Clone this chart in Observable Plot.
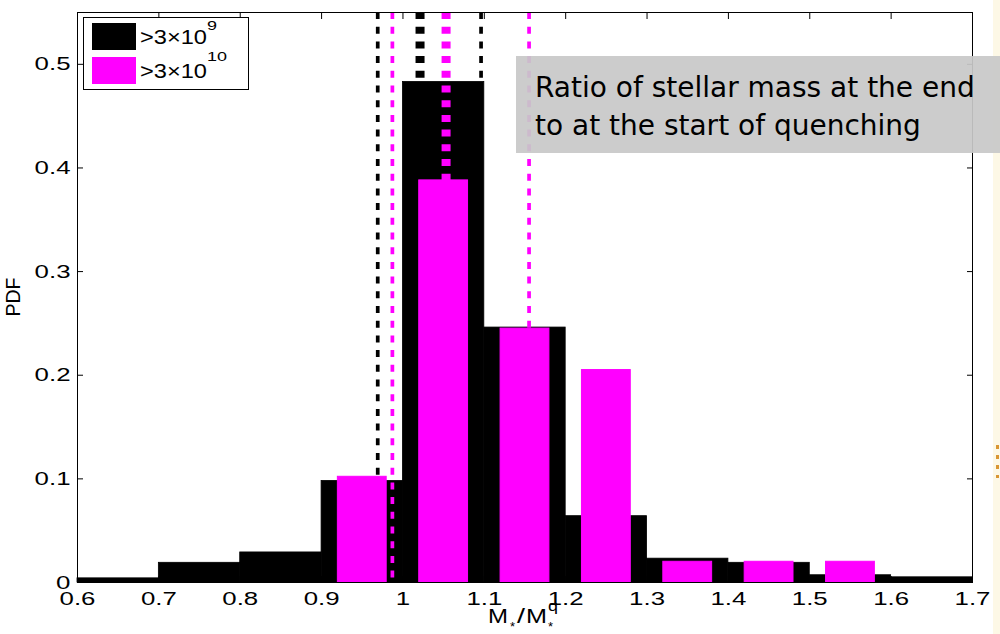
<!DOCTYPE html>
<html>
<head>
<meta charset="utf-8">
<script src="https://cdn.jsdelivr.net/npm/d3@7"></script>
<script src="https://cdn.jsdelivr.net/npm/@observablehq/plot@0.6"></script>
<style>
  html, body { margin: 0; padding: 0; background: #fff; }
  #wrap { position: relative; width: 1000px; height: 634px; overflow: hidden; }
  #overlay { position: absolute; left: 0; top: 0; pointer-events: none; }
</style>
</head>
<body>
<div id="wrap"></div>
<script>
// ---- data ----
const binStart   = [0.6, 0.7, 0.8, 0.9, 1.0, 1.1, 1.2, 1.3, 1.4, 1.5, 1.6];
const binWidth   = 0.1;
const pdfAll     = [0.004, 0.019, 0.029, 0.098, 0.483, 0.246, 0.064, 0.023, 0.019, 0.007, 0.005]; // >3x10^9
const pdfMassive = [0, 0, 0, 0.102, 0.388, 0.245, 0.205, 0.020, 0.020, 0.020, 0];           // >3x10^10
// dashed lines: lower, median, upper
const linesAll     = [0.969, 1.021, 1.096];
const linesMassive = [0.987, 1.053, 1.155];
const xTicks = [0.6, 0.7, 0.8, 0.9, 1.0, 1.1, 1.2, 1.3, 1.4, 1.5, 1.6, 1.7];
const yTicks = [0, 0.1, 0.2, 0.3, 0.4, 0.5];
const legendLabels = [">3\u00d710", ">3\u00d710"];
const legendExps = ["9", "10"];

const colAll = "#000000", colMassive = "#ff00ff";

const allRows = binStart.map((s, i) => ({x1: s, x2: s + binWidth, y: pdfAll[i]}));
// second series is drawn narrower (60% of bin) centred on the bin
const massRows = binStart.map((s, i) => ({x1: s + binWidth * 0.2, x2: s + binWidth * 0.8, y: pdfMassive[i]}));

const fmt = d => String(+d.toFixed(1));
const dash = "7,7.7";

const chart = Plot.plot({
  width: 1000,
  height: 634,
  marginLeft: 77,
  marginRight: 28,
  marginTop: 12,
  marginBottom: 52,
  style: {fontFamily: "'Liberation Sans', Arial, sans-serif", fontSize: "19px", color: "#000", background: "transparent"},
  x: {domain: [0.6, 1.7], label: null},
  y: {domain: [0, 0.55], label: null},
  marks: [
    Plot.rectY(allRows, {x1: "x1", x2: "x2", y: "y", fill: colAll, stroke: colAll, strokeWidth: 0.8, inset: 0}),
    Plot.ruleX([linesAll[0], linesAll[2]], {stroke: colAll, strokeWidth: 3.7, strokeDasharray: dash}),
    Plot.ruleX([linesAll[1]], {stroke: colAll, strokeWidth: 9, strokeDasharray: dash}),
    Plot.rectY(massRows, {x1: "x1", x2: "x2", y: "y", fill: colMassive, stroke: colMassive, strokeWidth: 1, inset: 0}),
    Plot.ruleX([linesMassive[0], linesMassive[2]], {stroke: colMassive, strokeWidth: 3.7, strokeDasharray: dash}),
    Plot.ruleX([linesMassive[1]], {stroke: colMassive, strokeWidth: 9, strokeDasharray: dash}),
    Plot.frame({stroke: "#000", strokeWidth: 1}),
    Plot.axisX({ticks: xTicks, tickFormat: fmt, tickSize: -6, tickPadding: 15, label: null}),
    Plot.axisX({anchor: "top", ticks: xTicks, tickFormat: () => "", tickSize: -6, label: null}),
    Plot.axisY({ticks: yTicks, tickFormat: fmt, tickSize: -6, tickPadding: 13, label: null}),
    Plot.axisY({anchor: "right", ticks: yTicks, tickFormat: () => "", tickSize: -6, label: null})
  ]
});
document.getElementById("wrap").appendChild(chart);

// widen tick label glyphs horizontally (MATLAB export look)
d3.select(chart).selectAll('g[aria-label$="tick label"] text').each(function() {
  const w = this.getComputedTextLength();
  if (w > 0) {
    this.setAttribute("textLength", (w * 1.36).toFixed(1));
    this.setAttribute("lengthAdjust", "spacingAndGlyphs");
  }
});

// ---- overlay: legend, annotation, axis titles ----
const NS = "http://www.w3.org/2000/svg";
const ov = document.createElementNS(NS, "svg");
ov.setAttribute("id", "overlay");
ov.setAttribute("width", 1000);
ov.setAttribute("height", 634);
ov.innerHTML = `
  <rect x="993" y="0" width="7" height="634" fill="#fdf8e6"/>
  <line x1="997.5" y1="445" x2="997.5" y2="478" stroke="#d99633" stroke-width="3" stroke-dasharray="4,6"/>
  <rect x="83.5" y="17.5" width="165" height="72" fill="#fff" stroke="#000" stroke-width="1"/>
  <rect x="92" y="23" width="44" height="27" fill="${colAll}"/>
  <rect x="92" y="57" width="44" height="27" fill="${colMassive}"/>
  <g font-family="'Liberation Sans', Arial, sans-serif" fill="#000">
    <text x="140" y="44" font-size="19.5" textLength="67" lengthAdjust="spacingAndGlyphs">${legendLabels[0]}</text>
    <text x="207" y="30" font-size="13.5" textLength="10" lengthAdjust="spacingAndGlyphs">${legendExps[0]}</text>
    <text x="140" y="78" font-size="19.5" textLength="67" lengthAdjust="spacingAndGlyphs">${legendLabels[1]}</text>
    <text x="207" y="61" font-size="13.5" textLength="20" lengthAdjust="spacingAndGlyphs">${legendExps[1]}</text>
  </g>
  <rect x="516" y="56" width="484" height="97" fill="rgba(200,200,200,0.93)"/>
  <g font-family="'DejaVu Sans', sans-serif" font-size="28" fill="#000">
    <text x="535" y="97">Ratio of stellar mass at the end</text>
    <text x="535" y="135">to at the start of quenching</text>
  </g>
  <text transform="translate(20,297) rotate(-90)" text-anchor="middle" font-family="'Liberation Sans', Arial, sans-serif" font-size="19.5" fill="#000">PDF</text>
  <g font-family="'Liberation Sans', Arial, sans-serif" fill="#000">
    <text x="488" y="623" font-size="19.5" textLength="20" lengthAdjust="spacingAndGlyphs">M</text>
    <text x="510" y="631" font-size="13">*</text>
    <text x="517" y="623" font-size="19.5" textLength="8" lengthAdjust="spacingAndGlyphs">/</text>
    <text x="526" y="623" font-size="19.5" textLength="21" lengthAdjust="spacingAndGlyphs">M</text>
    <text x="548" y="611" font-size="14" textLength="10" lengthAdjust="spacingAndGlyphs">q</text>
    <text x="548" y="631" font-size="13">*</text>
  </g>
`;
document.getElementById("wrap").appendChild(ov);
</script>
</body>
</html>
